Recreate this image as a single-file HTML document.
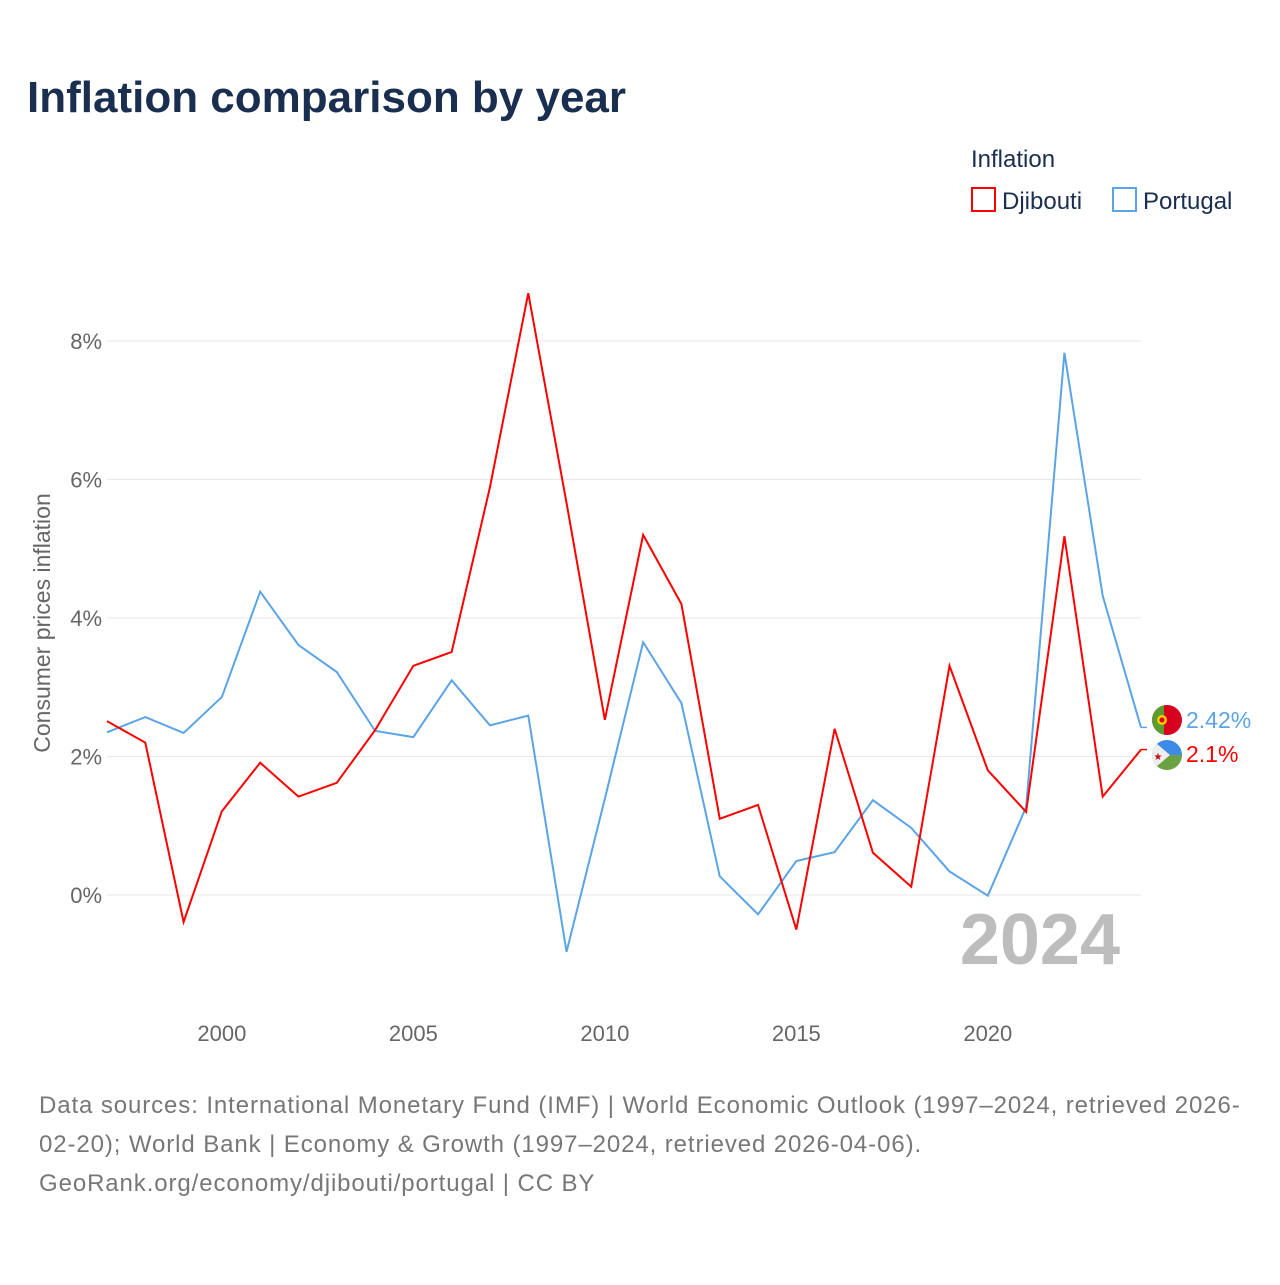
<!DOCTYPE html>
<html><head><meta charset="utf-8"><style>
body{margin:0;background:#fff;width:1280px;height:1280px;overflow:hidden;font-family:"Liberation Sans",sans-serif}
</style></head><body>
<svg width="1280" height="1280" id="svg" font-family="Liberation Sans, sans-serif">
<text x="27" y="112" font-size="44" font-weight="bold" fill="#1a2e4f">Inflation comparison by year</text>
<text x="971" y="167" font-size="24" fill="#1a2e4f">Inflation</text>
<g><rect x="972" y="188" width="23" height="23" fill="none" stroke="#f00" stroke-width="2"/><text x="1002" y="209" font-size="24" fill="#1a2e4f">Djibouti</text></g>
<g><rect x="1113" y="188" width="23" height="23" fill="none" stroke="#5ba4e6" stroke-width="2"/><text x="1143" y="209" font-size="24" fill="#1a2e4f">Portugal</text></g>
<g id="grid"></g><g id="lines"></g>
<text x="1120" y="964" text-anchor="end" font-size="72" font-weight="bold" fill="#bdbdbd">2024</text>
<text transform="translate(50,623) rotate(-90)" text-anchor="middle" font-size="23" fill="#666">Consumer prices inflation</text>
<g><clipPath id="c1"><circle cx="1167" cy="720" r="15"/></clipPath><g clip-path="url(#c1)"><rect x="1150" y="703" width="34" height="34" fill="#d8001f"/><rect x="1150" y="703" width="14" height="34" fill="#5a9c2e"/><circle cx="1162" cy="720" r="5" fill="#f3d000"/><circle cx="1162" cy="720" r="2.5" fill="#d8001f"/></g></g>
<g><clipPath id="c2"><circle cx="1167" cy="755" r="15"/></clipPath><g clip-path="url(#c2)"><rect x="1150" y="738" width="34" height="17" fill="#3c8be6"/><rect x="1150" y="755" width="34" height="17" fill="#6ba043"/><polygon points="1150,738 1150,772 1170,755" fill="#eee"/><text x="1158" y="760" font-size="10" fill="#d0021b" text-anchor="middle">★</text></g></g>
<text x="1186" y="728" font-size="23" fill="#5ba4e6">2.42%</text>
<text x="1186" y="762" font-size="23" fill="#f00">2.1%</text>
<text font-size="24" fill="#777" letter-spacing="0.9"><tspan x="39" y="1113">Data sources: International Monetary Fund (IMF) | World Economic Outlook (1997–2024, retrieved 2026-</tspan><tspan x="39" y="1152">02-20); World Bank | Economy &amp; Growth (1997–2024, retrieved 2026-04-06).</tspan><tspan x="39" y="1191">GeoRank.org/economy/djibouti/portugal | CC BY</tspan></text>
</svg>
<script>
const years=[1997,1998,1999,2000,2001,2002,2003,2004,2005,2006,2007,2008,2009,2010,2011,2012,2013,2014,2015,2016,2017,2018,2019,2020,2021,2022,2023,2024];
const djibouti=[2.51,2.2,-0.39,1.21,1.91,1.42,1.62,2.38,3.31,3.51,5.89,8.69,5.66,2.53,5.2,4.2,1.1,1.3,-0.5,2.4,0.61,0.12,3.31,1.8,1.2,5.18,1.42,2.1];
const portugal=[2.35,2.57,2.34,2.86,4.38,3.61,3.22,2.37,2.28,3.1,2.45,2.59,-0.82,1.39,3.65,2.77,0.27,-0.28,0.49,0.62,1.37,0.97,0.34,-0.01,1.27,7.83,4.32,2.42];
const yTicks=[0,2,4,6,8];
const xTicks=[2000,2005,2010,2015,2020];
const X=y=>107+(y-1997)*(1141-107)/27;
const Y=v=>895-v*69.25;
const NS="http://www.w3.org/2000/svg";
const g=document.getElementById('grid'),L=document.getElementById('lines');
function mk(t,a,p){const e=document.createElementNS(NS,t);for(const k in a)e.setAttribute(k,a[k]);p.appendChild(e);return e;}
yTicks.forEach(v=>{
const l=mk('line',{x1:107,x2:1141,y1:Y(v),y2:Y(v),stroke:'#e8e8e8','stroke-width':1},g);


const t=mk('text',{x:102,y:Y(v)+8,'text-anchor':'end','font-size':22,fill:'#666'},g);t.textContent=v+'%';


});
xTicks.forEach(v=>{
const t=mk('text',{x:X(v),y:1041,'text-anchor':'middle','font-size':22,fill:'#666'},g);t.textContent=v;


});
function line(d,c,n){
const p=mk('polyline',{points:d.map((v,i)=>X(years[i])+','+Y(v)).join(' '),fill:'none',stroke:c,'stroke-width':2,'stroke-linejoin':'miter'},L);


const last=d[d.length-1];
const s=mk('polyline',{points:`${X(2024)},${Y(last)} ${X(2024)+6},${Y(last)} `,fill:'none',stroke:c,'stroke-width':1.5},L);


}
line(portugal,'#5ba4e6','portugal-line');
line(djibouti,'#f00','djibouti-line');
</script>
</body></html>
